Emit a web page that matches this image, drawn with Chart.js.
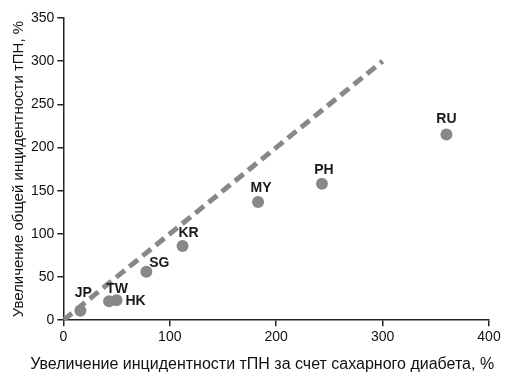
<!DOCTYPE html>
<html><head><meta charset="utf-8">
<script src="https://cdn.jsdelivr.net/npm/chart.js@4"></script>
<style>html,body{margin:0;padding:0;background:#fff}#w{width:512px;height:385px}</style>
</head><body><div id="w"><canvas id="c"></canvas></div>
<script>
const countries = ["JP","TW","HK","SG","KR","MY","PH","RU"];
const diabetesIncrease = [16, 43, 50, 78, 112, 183, 243, 360];
const totalIncrease = [11, 22, 23, 56, 86, 137, 158, 215];
const refLineX = [0, 300];
const refLineY = [0, 300];
const xTicks = [0, 100, 200, 300, 400];
const yTicks = [0, 50, 100, 150, 200, 250, 300, 350];
const xTitle = 'Увеличение инцидентности тПН за счет сахарного диабета, %';
const yTitle = 'Увеличение общей инцидентности тПН, %';
const labelOffsets = {JP:[3,-18],TW:[8,-12],HK:[19,1],SG:[13,-9],KR:[6,-13],MY:[3,-14],PH:[2,-14],RU:[0,-15]};
const FONT = '"Liberation Sans", Arial, sans-serif';

const labelPlugin = {
  id:'lbl',
  afterDatasetsDraw(chart){
    const ctx = chart.ctx, xs = chart.scales.x, ys = chart.scales.y;
    ctx.save();
    ctx.font = 'bold 14px ' + FONT;
    ctx.fillStyle = '#1a1a1a';
    ctx.textAlign = 'center';
    ctx.textBaseline = 'middle';
    countries.forEach((c,i)=>{
      const o = labelOffsets[c];
      ctx.fillText(c, xs.getPixelForValue(diabetesIncrease[i]) + o[0], ys.getPixelForValue(totalIncrease[i]) + o[1]);
    });
    // x axis title (drawn here so it is not squeezed to the axis width)
    ctx.font = '16px ' + FONT;
    ctx.fillStyle = '#111';
    ctx.fillText(xTitle, (chart.chartArea.left + chart.chartArea.right) / 2 - 14, xs.bottom + 16);
    ctx.restore();
  }
};

new Chart(document.getElementById('c'), {
  type:'scatter',
  data:{datasets:[
    {data: refLineX.map((x,i)=>({x, y: refLineY[i]})), showLine:true, borderColor:'#888', borderWidth:5, borderDash:[11,6], pointRadius:0, order:2},
    {data: diabetesIncrease.map((x,i)=>({x, y: totalIncrease[i]})), pointRadius:6, pointBackgroundColor:'#888', pointBorderWidth:0, order:1}
  ]},
  options:{
    responsive:true, maintainAspectRatio:false, animation:false,
    layout:{padding:{top:18, right:23, left:10, bottom:36}},
    plugins:{legend:{display:false}, tooltip:{enabled:false}},
    scales:{
      x:{type:'linear', min:0, max:400,
        afterBuildTicks(s){ s.ticks = xTicks.map(v=>({value:v})); },
        grid:{display:true, drawOnChartArea:false, drawTicks:true, tickLength:6, color:'#222', lineWidth:1.5},
        border:{color:'#222', width:1.5},
        ticks:{color:'#111', font:{size:14, family:FONT}, padding:3},
        title:{display:false}
      },
      y:{type:'linear', min:0, max:350,
        afterBuildTicks(s){ s.ticks = yTicks.map(v=>({value:v})); },
        grid:{display:true, drawOnChartArea:false, drawTicks:true, tickLength:6, color:'#222', lineWidth:1.5},
        border:{color:'#222', width:1.5},
        ticks:{color:'#111', font:{size:14, family:FONT}, padding:3},
        title:{display:true, text:yTitle, color:'#111', font:{size:15, family:FONT}, padding:{top:0, bottom:0}}
      }
    }
  },
  plugins:[labelPlugin]
});
</script></body></html>
